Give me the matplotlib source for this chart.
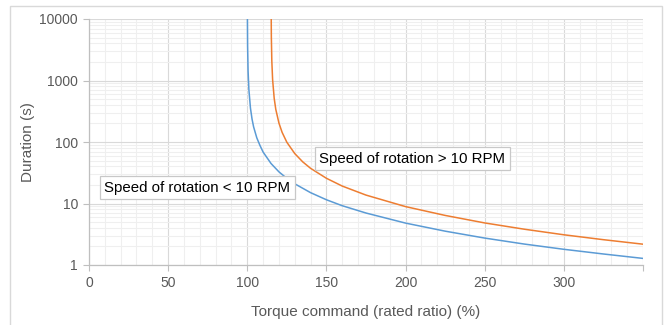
import matplotlib
matplotlib.use("Agg")
import matplotlib.pyplot as plt
from matplotlib.patches import Rectangle
from matplotlib.ticker import MultipleLocator, LogLocator, NullFormatter, FixedFormatter, FixedLocator

plt.rcParams['font.family'] = ['Liberation Sans', 'DejaVu Sans']

# values
torque_low = [100.05, 100.2, 100.5, 101, 102, 103, 104, 106, 108, 110, 115, 120, 125,
              130, 140, 150, 160, 175, 200, 225, 250, 275, 300, 325, 350]
dur_low = [14000, 3600, 1440, 716, 356, 236, 176, 117, 88, 68.6, 44.7, 32.7, 25.6,
           20.9, 15.0, 11.5, 9.2, 7.0, 4.8, 3.55, 2.74, 2.19, 1.8, 1.51, 1.28]

torque_high = [115.05, 115.2, 115.5, 116, 117, 118, 120, 122, 125, 130, 135, 140, 150,
               160, 175, 200, 225, 250, 275, 300, 325, 350]
dur_high = [20700, 5170, 2070, 1034, 513, 340, 203, 143.5, 99, 64.8, 47.6, 37.3, 25.7,
            19.2, 13.7, 8.9, 6.4, 4.83, 3.82, 3.10, 2.58, 2.18]

label_low = "Speed of rotation < 10 RPM"
label_high = "Speed of rotation > 10 RPM"
x_ticks = [0, 50, 100, 150, 200, 250, 300, 350]
x_labels = ["0", "50", "100", "150", "200", "250", "300", ""]
y_ticks = [1, 10, 100, 1000, 10000]
y_labels = ["1", "10", "100", "1000", "10000"]

fig = plt.figure(figsize=(6.7, 3.25), dpi=100)
# outer chart frame
fig.patches.append(Rectangle((10 / 670, -0.1), 652 / 670, 1.1 - 6 / 325,
                             transform=fig.transFigure, fill=False,
                             edgecolor='#d9d9d9', linewidth=1.0))

ax = fig.add_axes([89 / 670, 60 / 325, 554 / 670, 246 / 325])

ax.plot(torque_low, dur_low, color='#5B9BD5', linewidth=1.1)
ax.plot(torque_high, dur_high, color='#ED7D31', linewidth=1.1)

ax.set_yscale('log')
ax.set_xlim(0, 350)
ax.set_ylim(1, 10000)

ax.xaxis.set_major_locator(FixedLocator(x_ticks))
ax.xaxis.set_major_formatter(FixedFormatter(x_labels))
ax.xaxis.set_minor_locator(MultipleLocator(10))
ax.yaxis.set_major_locator(FixedLocator(y_ticks))
ax.yaxis.set_major_formatter(FixedFormatter(y_labels))
ax.yaxis.set_minor_locator(LogLocator(base=10, subs=range(2, 10)))
ax.yaxis.set_minor_formatter(NullFormatter())

ax.grid(which='major', color='#d9d9d9', linewidth=0.8)
ax.grid(which='minor', color='#efefef', linewidth=0.8)
ax.set_axisbelow(True)

for s in ['top', 'right']:
    ax.spines[s].set_visible(False)
for s in ['left', 'bottom']:
    ax.spines[s].set_color('#bfbfbf')
    ax.spines[s].set_linewidth(0.9)

ax.tick_params(which='major', length=4, color='#bfbfbf', labelsize=10,
               labelcolor='#595959', pad=4)
ax.tick_params(which='minor', length=0)

ax.set_xlabel("Torque command (rated ratio) (%)", fontsize=11, color='#595959', labelpad=11)
ax.set_ylabel("Duration (s)", fontsize=11, color='#595959', labelpad=3)

box = dict(boxstyle='square,pad=0.3', facecolor='white', edgecolor='#c8c8c8', linewidth=0.9)
ax.text(9.5, 17.9, label_low, fontsize=10.8, color='black', va='center', ha='left', bbox=box)
ax.text(145.5, 53, label_high, fontsize=10.8, color='black', va='center', ha='left', bbox=box)

fig.savefig("out.png", dpi=100)
